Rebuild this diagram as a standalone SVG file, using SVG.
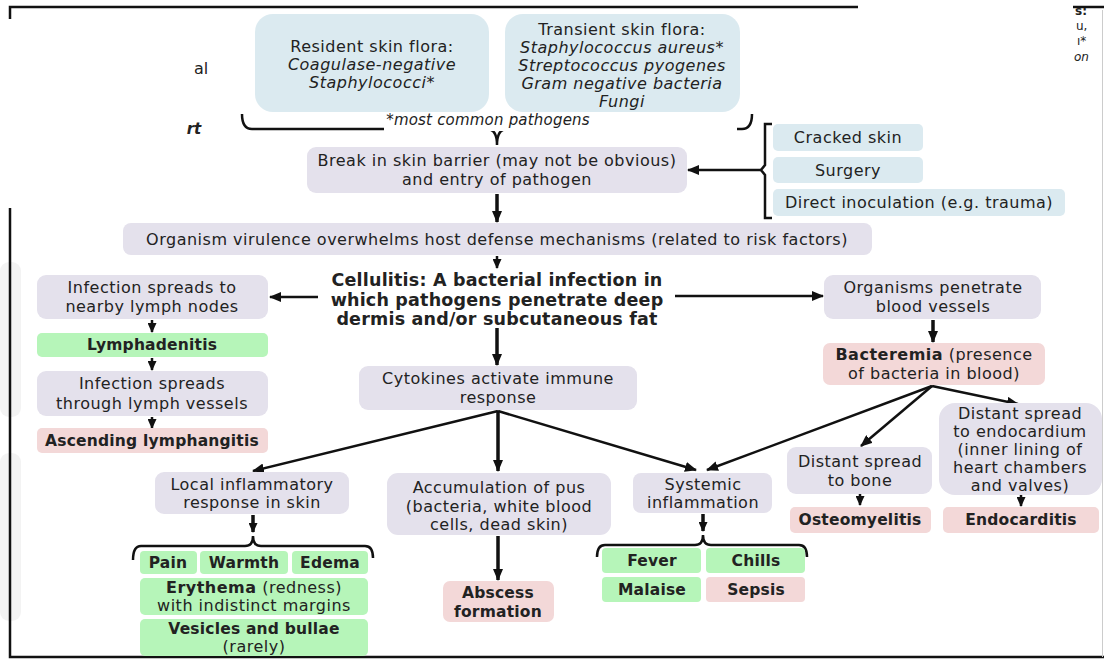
<svg xmlns="http://www.w3.org/2000/svg" width="1104" height="663" viewBox="0 0 1104 663">
<style>
.t{font-family:"DejaVu Sans","Open Sans",sans-serif;font-size:16px;letter-spacing:0.5px;fill:#222;text-anchor:middle}
.b{font-weight:bold}
.bb{font-weight:bold;font-size:15.5px;letter-spacing:0.2px}
.cel{font-weight:bold;font-size:17.5px;letter-spacing:0.2px}
.i{font-style:italic}
.frag{font-size:12px;letter-spacing:0;text-anchor:start}
.note{font-size:15px;letter-spacing:0.2px}
.blue{fill:#dbeaf0}
.pur{fill:#e4e1ec}
.grn{fill:#b6f5b9}
.pnk{fill:#f3d8d8}
.ln{stroke:#111;stroke-width:2.5;fill:none}
.lnT{stroke:#111;stroke-width:3.5;fill:none}
.frame{stroke:#111;stroke-width:2.5;fill:none}
</style>
<defs>
<marker id="ah" markerWidth="12" markerHeight="10" refX="11" refY="5" orient="auto" markerUnits="userSpaceOnUse"><path d="M0,0 L12,5 L0,10 z" fill="#111"/></marker>
<marker id="ahS" markerWidth="10" markerHeight="9" refX="9" refY="4.5" orient="auto" markerUnits="userSpaceOnUse"><path d="M0,0 L10,4.5 L0,9 z" fill="#111"/></marker>
</defs>
<rect width="1104" height="663" fill="#fff"/>
<g id="frame">
<rect x="0" y="262" width="21" height="155" rx="9" fill="#f3f3f3"/>
<rect x="0" y="453" width="21" height="168" rx="9" fill="#f3f3f3"/>
<path class="frame" d="M10,19 L10,7 L858,7"/>
<path class="frame" d="M1073,7 L1104,7"/>
<path class="frame" d="M10,208 L10,657 L1104,657"/>
<line x1="1102.5" y1="10" x2="1102.5" y2="657" stroke="#ccc" stroke-width="1"/>
<text class="t" x="201" y="74" style="font-size:16px;letter-spacing:0">al</text>
<text class="t b i" x="194" y="134" style="font-size:15px;letter-spacing:0">rt</text>
<text class="t b frag" x="1075" y="15">s:</text>
<text class="t frag" x="1076" y="30">u,</text>
<text class="t frag" x="1077" y="45">ı*</text>
<text class="t i frag" x="1074" y="61">on</text>
</g>
<g id="connectors">
<path class="ln" d="M242,114 Q242,129 252,129 L487,129 Q497,129 497,145 Q497,129 507,129 L742,129 Q752,129 752,114"/>
<path class="ln" d="M772,124 L765,124 L765,165 L761,170 L765,175 L765,218 L772,218"/>
<line class="ln" x1="761" y1="170" x2="688" y2="170" marker-end="url(#ah)"/>
<line class="lnT" x1="497" y1="194" x2="497" y2="222" marker-end="url(#ah)"/>
<line class="ln" x1="497" y1="256" x2="497" y2="268" marker-end="url(#ahS)"/>
<line class="ln" x1="318" y1="297" x2="270" y2="297" marker-end="url(#ah)"/>
<line class="ln" x1="675" y1="296" x2="823" y2="296" marker-end="url(#ah)"/>
<line class="lnT" x1="497" y1="328" x2="497" y2="365" marker-end="url(#ah)"/>
<line class="ln" x1="152" y1="320" x2="152" y2="332" marker-end="url(#ahS)"/>
<line class="ln" x1="152" y1="358" x2="152" y2="370" marker-end="url(#ahS)"/>
<line class="ln" x1="152" y1="417" x2="152" y2="428" marker-end="url(#ahS)"/>
<line class="lnT" x1="933" y1="320" x2="933" y2="342" marker-end="url(#ah)"/>
<line class="ln" x1="932" y1="386" x2="707" y2="470" marker-end="url(#ah)"/>
<line class="ln" x1="932" y1="386" x2="861" y2="446" marker-end="url(#ah)"/>
<line class="ln" x1="932" y1="386" x2="1018" y2="404" marker-end="url(#ah)"/>
<line class="ln" x1="498" y1="411" x2="253" y2="471" marker-end="url(#ah)"/>
<line class="lnT" x1="498" y1="411" x2="498" y2="471" marker-end="url(#ah)"/>
<line class="ln" x1="498" y1="411" x2="696" y2="470" marker-end="url(#ah)"/>
<line class="lnT" x1="253" y1="515" x2="253" y2="532" marker-end="url(#ahS)"/>
<path class="ln" d="M133,560 Q133,546 141,546 L245,546 Q253,546 253,536 Q253,546 261,546 L365,546 Q373,546 373,558"/>
<line class="ln" x1="860" y1="494" x2="860" y2="505" marker-end="url(#ahS)"/>
<line class="ln" x1="1021" y1="495" x2="1021" y2="506" marker-end="url(#ahS)"/>
<line class="lnT" x1="498" y1="536" x2="498" y2="580" marker-end="url(#ah)"/>
<line class="lnT" x1="703" y1="514" x2="703" y2="531" marker-end="url(#ahS)"/>
<path class="ln" d="M597,557 Q597,545 605,545 L695,545 Q703,545 703,535 Q703,545 711,545 L799,545 Q807,545 807,557"/>
</g>
<g id="resident">
<rect class="blue" x="255" y="14" width="234" height="98" rx="18"/>
<text class="t" x="372" y="52">Resident skin flora:</text>
<text class="t i" x="372" y="70">Coagulase-negative</text>
<text class="t i" x="372" y="88">Staphylococci*</text>
</g>
<g id="transient">
<rect class="blue" x="505" y="14" width="235" height="98" rx="18"/>
<text class="t" x="622" y="35">Transient skin flora:</text>
<text class="t i" x="622" y="53">Staphylococcus aureus*</text>
<text class="t i" x="622" y="71">Streptococcus pyogenes</text>
<text class="t i" x="622" y="89">Gram negative bacteria</text>
<text class="t i" x="622" y="107">Fungi</text>
</g>
<g id="pathogens-note">
<rect x="384" y="113" width="353" height="18" fill="#fff"/>
<text class="t i note" x="488" y="125">*most common pathogens</text>
</g>
<g id="break">
<rect class="pur" x="307" y="147" width="380" height="46" rx="9"/>
<text class="t" x="497" y="166">Break in skin barrier (may not be obvious)</text>
<text class="t" x="497" y="185">and entry of pathogen</text>
</g>
<g id="cracked">
<rect class="blue" x="773" y="124" width="150" height="27" rx="5"/>
<text class="t" x="848" y="143">Cracked skin</text>
</g>
<g id="surgery">
<rect class="blue" x="773" y="157" width="150" height="26" rx="5"/>
<text class="t" x="848" y="176">Surgery</text>
</g>
<g id="inoculation">
<rect class="blue" x="773" y="189" width="292" height="27" rx="5"/>
<text class="t" x="919" y="208">Direct inoculation (e.g. trauma)</text>
</g>
<g id="virulence">
<rect class="pur" x="123" y="223" width="749" height="32" rx="8"/>
<text class="t" x="497" y="245">Organism virulence overwhelms host defense mechanisms (related to risk factors)</text>
</g>
<g id="cellulitis">
<text class="t cel" x="497" y="286">Cellulitis: A bacterial infection in</text>
<text class="t cel" x="497" y="306">which pathogens penetrate deep</text>
<text class="t cel" x="497" y="325">dermis and/or subcutaneous fat</text>
</g>
<g id="lymph-nodes">
<rect class="pur" x="37" y="275" width="231" height="44" rx="9"/>
<text class="t" x="152" y="293">Infection spreads to</text>
<text class="t" x="152" y="312">nearby lymph nodes</text>
</g>
<g id="lymphadenitis">
<rect class="grn" x="37" y="333" width="231" height="24" rx="5"/>
<text class="t bb" x="152" y="350">Lymphadenitis</text>
</g>
<g id="lymph-vessels">
<rect class="pur" x="37" y="371" width="231" height="45" rx="9"/>
<text class="t" x="152" y="389">Infection spreads</text>
<text class="t" x="152" y="409">through lymph vessels</text>
</g>
<g id="lymphangitis">
<rect class="pnk" x="37" y="428" width="231" height="25" rx="5"/>
<text class="t bb" x="152" y="446">Ascending lymphangitis</text>
</g>
<g id="blood-vessels">
<rect class="pur" x="824" y="275" width="217" height="44" rx="9"/>
<text class="t" x="933" y="293">Organisms penetrate</text>
<text class="t" x="933" y="312">blood vessels</text>
</g>
<g id="bacteremia">
<rect class="pnk" x="823" y="343" width="222" height="42" rx="7"/>
<text class="t" x="934" y="360"><tspan class="b">Bacteremia</tspan> (presence</text>
<text class="t" x="934" y="379">of bacteria in blood)</text>
</g>
<g id="cytokines">
<rect class="pur" x="359" y="366" width="278" height="44" rx="9"/>
<text class="t" x="498" y="384">Cytokines activate immune</text>
<text class="t" x="498" y="403">response</text>
</g>
<g id="endocardium">
<rect class="pur" x="939" y="403" width="163" height="92" rx="16"/>
<text class="t" x="1020" y="419">Distant spread</text>
<text class="t" x="1020" y="437">to endocardium</text>
<text class="t" x="1020" y="455">(inner lining of</text>
<text class="t" x="1020" y="473">heart chambers</text>
<text class="t" x="1020" y="491">and valves)</text>
</g>
<g id="bone">
<rect class="pur" x="787" y="447" width="145" height="47" rx="9"/>
<text class="t" x="860" y="467">Distant spread</text>
<text class="t" x="860" y="486">to bone</text>
</g>
<g id="osteomyelitis">
<rect class="pnk" x="790" y="507" width="141" height="26" rx="5"/>
<text class="t bb" x="860" y="525">Osteomyelitis</text>
</g>
<g id="endocarditis">
<rect class="pnk" x="943" y="507" width="156" height="26" rx="5"/>
<text class="t bb" x="1021" y="525">Endocarditis</text>
</g>
<g id="local">
<rect class="pur" x="155" y="472" width="194" height="42" rx="9"/>
<text class="t" x="252" y="490">Local inflammatory</text>
<text class="t" x="252" y="508">response in skin</text>
</g>
<g id="pus">
<rect class="pur" x="387" y="473" width="224" height="62" rx="11"/>
<text class="t" x="499" y="493">Accumulation of pus</text>
<text class="t" x="499" y="512">(bacteria, white blood</text>
<text class="t" x="499" y="530">cells, dead skin)</text>
</g>
<g id="systemic">
<rect class="pur" x="633" y="473" width="139" height="40" rx="8"/>
<text class="t" x="703" y="490">Systemic</text>
<text class="t" x="703" y="508">inflammation</text>
</g>
<g id="pain">
<rect class="grn" x="140" y="551" width="57" height="23" rx="4"/>
<text class="t bb" x="168" y="568">Pain</text>
</g>
<g id="warmth">
<rect class="grn" x="200" y="551" width="88" height="23" rx="4"/>
<text class="t bb" x="244" y="568">Warmth</text>
</g>
<g id="edema">
<rect class="grn" x="292" y="551" width="76" height="23" rx="4"/>
<text class="t bb" x="330" y="568">Edema</text>
</g>
<g id="erythema">
<rect class="grn" x="140" y="578" width="228" height="37" rx="5"/>
<text class="t" x="254" y="593"><tspan class="b">Erythema</tspan> (redness)</text>
<text class="t" x="254" y="611">with indistinct margins</text>
</g>
<g id="vesicles">
<rect class="grn" x="140" y="619" width="228" height="37" rx="5"/>
<text class="t bb" x="254" y="634">Vesicles and bullae</text>
<text class="t" x="254" y="652">(rarely)</text>
</g>
<g id="abscess">
<rect class="pnk" x="443" y="581" width="111" height="41" rx="7"/>
<text class="t bb" x="498" y="598">Abscess</text>
<text class="t bb" x="498" y="617">formation</text>
</g>
<g id="fever">
<rect class="grn" x="602" y="548" width="99" height="25" rx="4"/>
<text class="t bb" x="652" y="566">Fever</text>
</g>
<g id="chills">
<rect class="grn" x="706" y="548" width="99" height="25" rx="4"/>
<text class="t bb" x="756" y="566">Chills</text>
</g>
<g id="malaise">
<rect class="grn" x="602" y="577" width="99" height="25" rx="4"/>
<text class="t bb" x="652" y="595">Malaise</text>
</g>
<g id="sepsis">
<rect class="pnk" x="706" y="577" width="99" height="25" rx="4"/>
<text class="t bb" x="756" y="595">Sepsis</text>
</g>
</svg>
